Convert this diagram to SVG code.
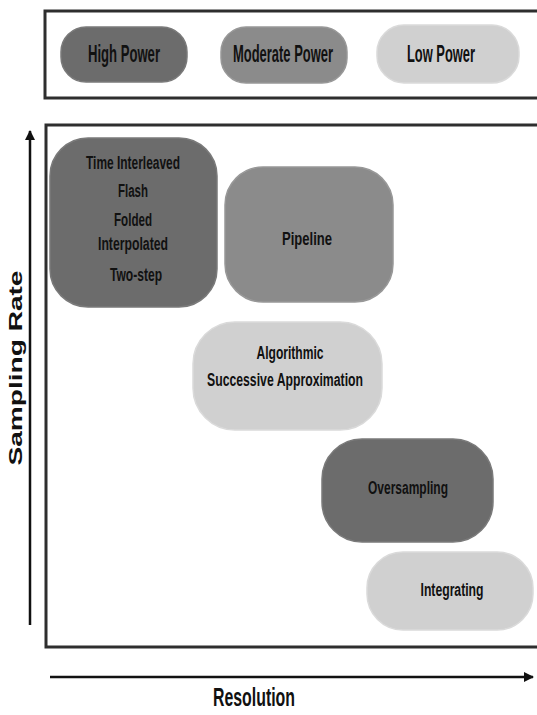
<svg xmlns="http://www.w3.org/2000/svg" width="537" height="715" viewBox="0 0 537 715">
<defs>
<style>
.frame{fill:none;stroke:#2e2e2e;stroke-width:3}
.dark{fill:#6c6c6c;stroke:#7a7a7a;stroke-width:1.5}
.mid{fill:#8b8b8b;stroke:#989898;stroke-width:1.5}
.light{fill:#d0d0d0;stroke:#dadada;stroke-width:1.5}
.t{font-family:"Liberation Sans Narrow","Liberation Sans",Arial,sans-serif;font-weight:bold;font-size:18px;fill:#111;text-anchor:middle}
.lg{font-size:23px}
.ax{stroke:#111;stroke-width:2.5;fill:none}
.axl{font-family:"Liberation Sans","Arial",sans-serif;fill:#111;text-anchor:middle}
.res{font-size:25px;font-weight:bold}
.samp{font-size:19px;font-weight:bold}
</style>
<marker id="ah" viewBox="0 0 10 10" refX="9" refY="5" markerWidth="4" markerHeight="4" orient="auto" markerUnits="strokeWidth">
<path d="M0,0 L10,5 L0,10 z" fill="#111"/>
</marker>
</defs>
<rect width="537" height="715" fill="#ffffff"/>
<g id="legend">
<rect class="frame" x="45" y="11" width="500" height="87"/>
<g id="high-power">
<rect class="dark" x="61" y="27" width="126" height="55" rx="25"/>
<text class="t lg" x="124" y="62" textLength="72" lengthAdjust="spacingAndGlyphs">High Power</text>
</g>
<g id="moderate-power">
<rect class="mid" x="221" y="27" width="126" height="56" rx="25"/>
<text class="t lg" x="283" y="62" textLength="100" lengthAdjust="spacingAndGlyphs">Moderate Power</text>
</g>
<g id="low-power">
<rect class="light" x="377" y="25" width="142" height="58" rx="27"/>
<text class="t lg" x="441" y="62" textLength="68" lengthAdjust="spacingAndGlyphs">Low Power</text>
</g>
</g>
<g id="chart-frame">
<polyline class="frame" points="545,125 46,125 46,647 545,647"/>
</g>
<g id="axes">
<line class="ax" x1="30" y1="625" x2="30" y2="131" marker-end="url(#ah)"/>
<line class="ax" x1="50" y1="677" x2="533" y2="677" marker-end="url(#ah)"/>
<text class="axl res" x="254" y="706" textLength="82" lengthAdjust="spacingAndGlyphs">Resolution</text>
<text class="axl samp" x="0" y="0" transform="translate(22,368) rotate(-90)" textLength="195" lengthAdjust="spacingAndGlyphs">Sampling Rate</text>
</g>
<g id="time-interleaved">
<rect class="dark" x="50" y="138" width="167" height="169" rx="38"/>
<text class="t" x="133" y="169" textLength="94" lengthAdjust="spacingAndGlyphs">Time Interleaved</text>
<text class="t" x="133" y="197" textLength="30" lengthAdjust="spacingAndGlyphs">Flash</text>
<text class="t" x="133" y="226" textLength="38" lengthAdjust="spacingAndGlyphs">Folded</text>
<text class="t" x="133" y="250" textLength="70" lengthAdjust="spacingAndGlyphs">Interpolated</text>
<text class="t" x="136" y="281" textLength="52" lengthAdjust="spacingAndGlyphs">Two-step</text>
</g>
<g id="pipeline">
<rect class="mid" x="225" y="167" width="168" height="135" rx="38"/>
<text class="t" x="307" y="245" textLength="50" lengthAdjust="spacingAndGlyphs">Pipeline</text>
</g>
<g id="algorithmic">
<rect class="light" x="193" y="322" width="189" height="108" rx="42"/>
<text class="t" x="290" y="359" textLength="67" lengthAdjust="spacingAndGlyphs">Algorithmic</text>
<text class="t" x="285" y="386" textLength="156" lengthAdjust="spacingAndGlyphs">Successive Approximation</text>
</g>
<g id="oversampling">
<rect class="dark" x="322" y="439" width="171" height="103" rx="40"/>
<text class="t" x="408" y="494" textLength="80" lengthAdjust="spacingAndGlyphs">Oversampling</text>
</g>
<g id="integrating">
<rect class="light" x="367" y="552" width="166" height="78" rx="36"/>
<text class="t" x="452" y="596" textLength="63" lengthAdjust="spacingAndGlyphs">Integrating</text>
</g>
</svg>
